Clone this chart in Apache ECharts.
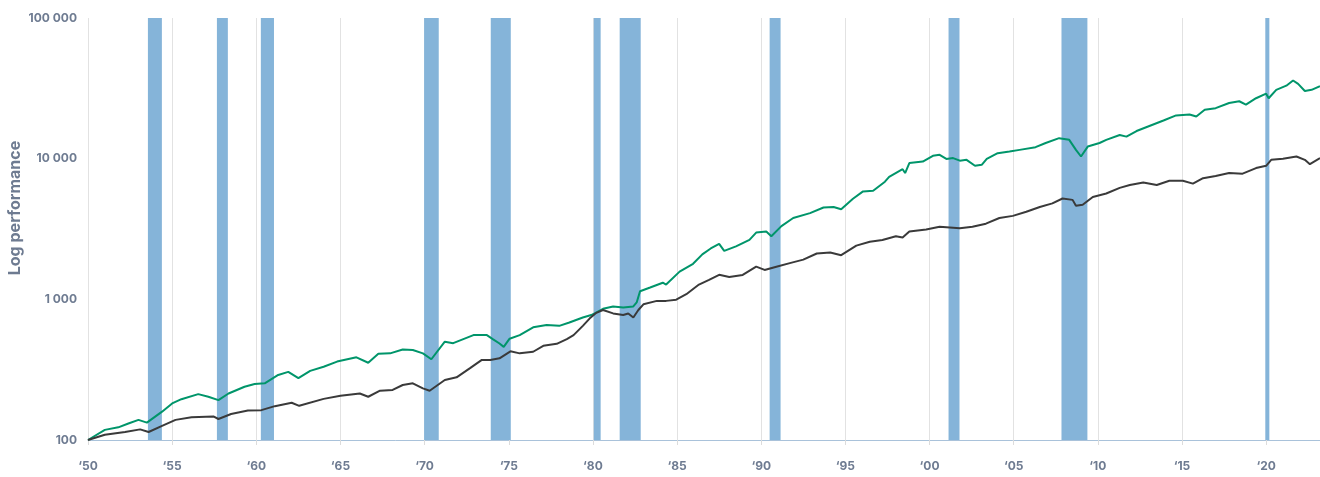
<!DOCTYPE html>
<html>
<head>
<meta charset="utf-8">
<script src="https://cdn.jsdelivr.net/npm/echarts@6/dist/echarts.min.js"></script>
<style>
  html, body { margin: 0; padding: 0; background: #fff; }
  #chart { width: 1320px; height: 477px; }
</style>
</head>
<body>
<div id="chart"></div>
<script>
// green series (year, value)
const greenYears = [1950.0, 1951.0, 1951.8, 1952.4, 1953.0, 1953.5, 1954.4, 1955.0, 1955.55, 1956.55, 1957.15, 1957.75, 1958.35, 1959.3, 1959.9, 1960.5, 1961.3, 1961.9, 1962.5, 1963.2, 1964.0, 1964.8, 1965.95, 1966.65, 1967.25, 1967.95, 1968.7, 1969.3, 1969.9, 1970.4, 1971.2, 1971.7, 1972.9, 1973.7, 1974.05, 1974.45, 1974.7, 1975.05, 1975.65, 1976.45, 1977.25, 1978.0, 1978.6, 1979.4, 1979.9, 1980.1, 1980.6, 1981.2, 1981.8, 1982.4, 1982.6, 1982.8, 1983.4, 1984.15, 1984.35, 1985.15, 1985.95, 1986.5, 1987.0, 1987.5, 1987.8, 1988.5, 1989.3, 1989.7, 1990.3, 1990.6, 1991.2, 1991.9, 1992.9, 1993.7, 1994.3, 1994.75, 1995.45, 1996.05, 1996.65, 1997.35, 1997.6, 1998.4, 1998.55, 1998.8, 1999.6, 2000.2, 2000.6, 2001.0, 2001.4, 2001.8, 2002.2, 2002.7, 2003.1, 2003.4, 2004.05, 2004.75, 2005.35, 2006.3, 2006.9, 2007.7, 2008.3, 2008.7, 2009.0, 2009.4, 2010.1, 2010.5, 2011.3, 2011.7, 2012.3, 2013.1, 2013.9, 2014.65, 2015.45, 2015.85, 2016.35, 2017.0, 2017.8, 2018.4, 2018.8, 2019.4, 2020.0, 2020.15, 2020.6, 2021.2, 2021.6, 2021.9, 2022.3, 2022.7, 2023.2]
const greenValues = [100, 118, 123, 131, 139, 133, 159, 182, 195, 212, 203, 192, 214, 239, 250, 253, 290, 305, 275, 310, 332, 361, 387, 354, 411, 413, 440, 436, 413, 375, 500, 488, 557, 557, 522, 485, 459, 525, 557, 633, 658, 648, 684, 743, 773, 794, 857, 890, 874, 890, 950, 1142, 1214, 1313, 1274, 1574, 1790, 2088, 2300, 2477, 2210, 2380, 2645, 2982, 3034, 2808, 3315, 3786, 4100, 4495, 4530, 4370, 5190, 5850, 5910, 6860, 7430, 8420, 7900, 9300, 9530, 10480, 10650, 9960, 10100, 9680, 9808, 8900, 9040, 9960, 10930, 11230, 11550, 12070, 12930, 13990, 13610, 11550, 10360, 12190, 12930, 13610, 14720, 14350, 15720, 17150, 18670, 20290, 20630, 19930, 22240, 22850, 24890, 25600, 24240, 26900, 28990, 26900, 30860, 33030, 35950, 34000, 30270, 30860, 32780]

// dark grey series (year, value)
const greyYears = [1950.0, 1951.0, 1952.2, 1953.1, 1953.6, 1954.4, 1955.2, 1956.15, 1957.45, 1957.75, 1958.5, 1959.5, 1960.3, 1961.1, 1962.1, 1962.55, 1964.0, 1965.0, 1966.15, 1966.65, 1967.35, 1968.1, 1968.7, 1969.3, 1969.9, 1970.3, 1971.2, 1971.9, 1972.7, 1973.4, 1973.9, 1974.45, 1975.1, 1975.65, 1976.45, 1977.05, 1977.85, 1978.45, 1978.85, 1979.4, 1979.8, 1980.2, 1980.6, 1981.2, 1981.8, 1982.1, 1982.4, 1982.7, 1983.0, 1983.8, 1984.35, 1984.95, 1985.55, 1986.3, 1986.9, 1987.5, 1988.1, 1988.9, 1989.7, 1990.2, 1990.9, 1991.7, 1992.5, 1993.3, 1994.1, 1994.75, 1995.65, 1996.45, 1997.2, 1998.0, 1998.4, 1998.8, 1999.8, 2000.6, 2001.8, 2002.55, 2003.35, 2004.15, 2004.95, 2005.75, 2006.55, 2007.3, 2007.9, 2008.5, 2008.7, 2009.1, 2009.7, 2010.5, 2011.3, 2011.9, 2012.7, 2013.5, 2014.25, 2015.05, 2015.65, 2016.25, 2017.0, 2017.8, 2018.6, 2019.4, 2020.0, 2020.3, 2021.0, 2021.8, 2022.3, 2022.6, 2023.2]
const greyValues = [100, 109, 114, 119, 114, 126, 139, 145, 147, 141, 153, 162, 163, 174, 184, 175, 196, 206, 214, 203, 224, 227, 246, 253, 233, 224, 267, 279, 324, 371, 371, 381, 427, 413, 424, 467, 483, 522, 557, 648, 730, 802, 840, 794, 773, 794, 743, 840, 922, 975, 975, 995, 1087, 1274, 1374, 1495, 1442, 1490, 1707, 1618, 1707, 1808, 1915, 2118, 2150, 2060, 2410, 2570, 2640, 2808, 2750, 3034, 3140, 3280, 3200, 3280, 3450, 3786, 3920, 4190, 4530, 4810, 5210, 5094, 4620, 4700, 5340, 5650, 6200, 6500, 6780, 6500, 6970, 6970, 6650, 7260, 7530, 7900, 7820, 8570, 8900, 9808, 10000, 10360, 9808, 9140, 10100]

// recession periods (start, end)
const recessionStart = [1953.56, 1957.66, 1960.27, 1969.97, 1973.93, 1980.05, 1981.59, 1990.5, 2001.13, 2007.84, 2019.95]
const recessionEnd = [1954.39, 1958.31, 1961.05, 1970.84, 1975.12, 1980.46, 1982.84, 1991.15, 2001.78, 2009.38, 2020.19]

const yTicks = [100, 1000, 10000, 100000]

const labelColor = '#6e7b91'
const fontFamily = 'Inter, Lato, sans-serif'

const chart = echarts.init(document.getElementById('chart'))

const fmtThousands = (v) => String(Math.round(v)).replace(/\B(?=(\d{3})+(?!\d))/g, ' ')

const option = {
  animation: false,
  grid: { left: 88, right: 0, top: 18, bottom: 37, containLabel: false, outerBoundsMode: 'none' },
  xAxis: {
    type: 'value',
    min: 1950,
    max: 2023.2,
    interval: 5,
    axisLine: { show: true, lineStyle: { color: '#a9c2da', width: 1 } },
    axisTick: { show: true, length: 5, lineStyle: { color: '#dcdcdc' } },
    splitLine: { show: true, lineStyle: { color: '#e2e2e2', width: 1 } },
    axisLabel: {
      color: labelColor,
      fontFamily,
      fontWeight: 'bold',
      fontSize: 12,
      margin: 20,
      showMaxLabel: false,
      formatter: (v) => '\u2018' + String(v).slice(2)
    }
  },
  yAxis: {
    type: 'log',
    logBase: 10,
    min: 100,
    max: 100000,
    name: 'Log performance',
    nameLocation: 'middle',
    nameGap: 65,
    nameMoveOverlap: false,
    nameTextStyle: { color: labelColor, fontFamily, fontWeight: 'bold', fontSize: 16, padding: [0, 0, 0, 42] },
    axisLine: { show: false },
    axisTick: { show: false },
    splitLine: { show: false },
    axisLabel: {
      color: labelColor,
      fontFamily,
      fontWeight: 'bold',
      fontSize: 12,
      margin: 11,
      formatter: (v) => yTicks.includes(Math.round(v)) ? fmtThousands(v) : ''
    }
  },
  series: [
    {
      name: 'Recessions',
      type: 'line',
      data: [],
      z: 1,
      silent: true,
      markArea: {
        silent: true,
        itemStyle: { color: '#85b4d9' },
        data: recessionStart.map((s, i) => [{ xAxis: s }, { xAxis: recessionEnd[i] }])
      }
    },
    {
      name: 'Green',
      type: 'line',
      z: 3,
      data: greenYears.map((y, i) => [y, greenValues[i]]),
      showSymbol: false,
      lineStyle: { color: '#00956a', width: 2 },
      itemStyle: { color: '#00956a' }
    },
    {
      name: 'Grey',
      type: 'line',
      z: 3,
      data: greyYears.map((y, i) => [y, greyValues[i]]),
      showSymbol: false,
      lineStyle: { color: '#3a3a3a', width: 2 },
      itemStyle: { color: '#3a3a3a' }
    }
  ]
}

chart.setOption(option)
window.addEventListener('resize', () => chart.resize())
</script>
</body>
</html>
